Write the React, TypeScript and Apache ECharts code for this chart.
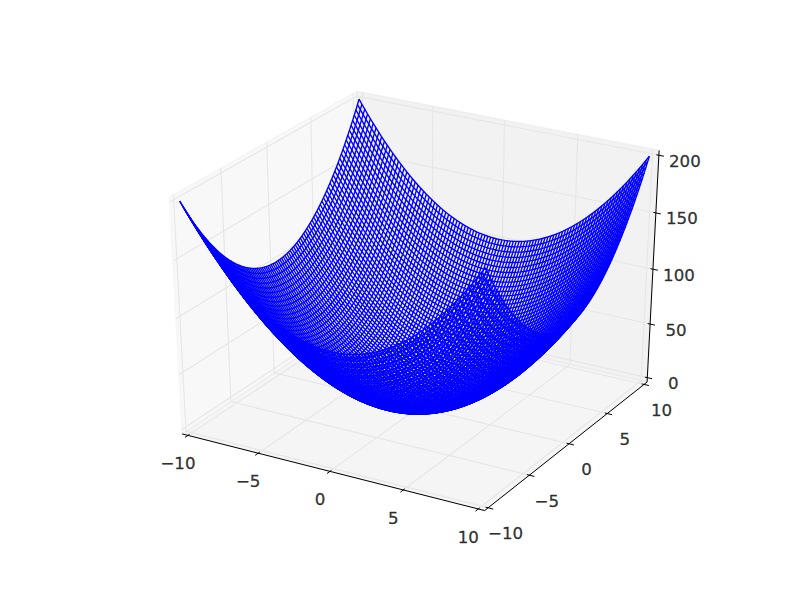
import React, { useEffect, useRef } from "react";
import * as echarts from "echarts";

const gridCoords = [
  -10, -9.8, -9.6, -9.4, -9.2, -9, -8.8, -8.6, -8.4, -8.2, -8, -7.8, -7.6, -7.4, -7.2, -7, -6.8, -6.6, -6.4, -6.2, -6,
  -5.8, -5.6, -5.4, -5.2, -5, -4.8, -4.6, -4.4, -4.2, -4, -3.8, -3.6, -3.4, -3.2, -3, -2.8, -2.6, -2.4, -2.2, -2, -1.8,
  -1.6, -1.4, -1.2, -1, -0.8, -0.6, -0.4, -0.2, 0, 0.2, 0.4, 0.6, 0.8, 1, 1.2, 1.4, 1.6, 1.8, 2, 2.2, 2.4, 2.6, 2.8, 3,
  3.2, 3.4, 3.6, 3.8, 4, 4.2, 4.4, 4.6, 4.8, 5, 5.2, 5.4, 5.6, 5.8, 6, 6.2, 6.4, 6.6, 6.8, 7, 7.2, 7.4, 7.6, 7.8, 8,
  8.2, 8.4, 8.6, 8.8, 9, 9.2, 9.4, 9.6, 9.8, 10,
];
// Height each grid coordinate contributes to the bowl.
const rimHeights = [
  100, 96.04, 92.16, 88.36, 84.64, 81, 77.44, 73.96, 70.56, 67.24, 64, 60.84, 57.76, 54.76, 51.84, 49, 46.24, 43.56,
  40.96, 38.44, 36, 33.64, 31.36, 29.16, 27.04, 25, 23.04, 21.16, 19.36, 17.64, 16, 14.44, 12.96, 11.56, 10.24, 9,
  7.84, 6.76, 5.76, 4.84, 4, 3.24, 2.56, 1.96, 1.44, 1, 0.64, 0.36, 0.16, 0.04, 0, 0.04, 0.16, 0.36, 0.64, 1, 1.44,
  1.96, 2.56, 3.24, 4, 4.84, 5.76, 6.76, 7.84, 9, 10.24, 11.56, 12.96, 14.44, 16, 17.64, 19.36, 21.16, 23.04, 25,
  27.04, 29.16, 31.36, 33.64, 36, 38.44, 40.96, 43.56, 46.24, 49, 51.84, 54.76, 57.76, 60.84, 64, 67.24, 70.56, 73.96,
  77.44, 81, 84.64, 88.36, 92.16, 96.04, 100,
];
const xTicks = [-10, -5, 0, 5, 10];
const yTicks = [-10, -5, 0, 5, 10];
const zTicks = [0, 50, 100, 150, 200];
const xTickLabels = ["\u221210", "\u22125", "0", "5", "10"];
const yTickLabels = ["\u221210", "\u22125", "0", "5", "10"];
const zTickLabels = ["0", "50", "100", "150", "200"];

const X0 = -10, X1 = 10, Z0 = 0, Z1 = 200;
const DIST = 10, ELEV = (30 * Math.PI) / 180, AZIM = (-60 * Math.PI) / 180;
const padXY = (X1 - X0) / 48, padZ = (Z1 - Z0) / 48;
const deltaXY = (X1 - X0) / 12;
const xMin = X0 - padXY, xMax = X1 + padXY, yMin = xMin, yMax = xMax, zMin = Z0 - padZ, zMax = Z1 + padZ;

type V3 = [number, number, number];
const sub = (a: V3, b: V3): V3 => [a[0] - b[0], a[1] - b[1], a[2] - b[2]];
const dot = (a: V3, b: V3) => a[0] * b[0] + a[1] * b[1] + a[2] * b[2];
const cross = (a: V3, b: V3): V3 => [a[1] * b[2] - a[2] * b[1], a[2] * b[0] - a[0] * b[2], a[0] * b[1] - a[1] * b[0]];
const norm = (a: V3): V3 => {
  const l = Math.sqrt(dot(a, a));
  return [a[0] / l, a[1] / l, a[2] / l];
};
const R: V3 = [0.5, 0.5, 0.5];
const E: V3 = [
  R[0] + Math.cos(AZIM) * Math.cos(ELEV) * DIST,
  R[1] + Math.sin(AZIM) * Math.cos(ELEV) * DIST,
  R[2] + Math.sin(ELEV) * DIST,
];
const n = norm(sub(E, R));
const u = norm(cross([0, 0, 1], n));
const v = cross(n, u);

function project(x: number, y: number, z: number): [number, number] {
  const w: V3 = [(x - X0) / (X1 - X0), (y - X0) / (X1 - X0), (z - Z0) / (Z1 - Z0)];
  const d = sub(w, E);
  const vz = dot(n, d);
  const px = dot(u, d) / -vz;
  const py = dot(v, d) / -vz;
  const sx = 100 + (620 * (px + 0.095)) / 0.185;
  const sy = 600 - (60 + (480 * (py + 0.095)) / 0.185);
  return [sx, sy];
}

const lineSeries = (pts: V3[], color: string, width: number) => ({
  type: "line",
  data: pts.map((p) => project(p[0], p[1], p[2])),
  showSymbol: false,
  symbol: "none",
  clip: false,
  silent: true,
  lineStyle: { color, width, cap: "butt", join: "miter" },
});

const labelSeries = (pts: [number, number][], texts: string[]) => ({
  type: "scatter",
  symbolSize: 1,
  clip: false,
  silent: true,
  itemStyle: { color: "transparent" },
  data: pts.map((p, i) => ({
    value: p,
    label: {
      show: true,
      position: "inside",
      formatter: texts[i],
      color: "#000000",
      textBorderColor: "#000000",
      textBorderWidth: 0.3,
      fontFamily: "DejaVu Sans",
      fontSize: 16.67,
      align: "center",
      verticalAlign: "middle",
    },
  })),
});

function buildOption() {
  const panes: V3[][] = [
    [[xMin, yMin, zMin], [xMin, yMax, zMin], [xMin, yMax, zMax], [xMin, yMin, zMax]],
    [[xMin, yMax, zMin], [xMax, yMax, zMin], [xMax, yMax, zMax], [xMin, yMax, zMax]],
    [[xMin, yMin, zMin], [xMax, yMin, zMin], [xMax, yMax, zMin], [xMin, yMax, zMin]],
  ];
  const paneFill = ["rgba(242,242,242,0.5)", "rgba(230,230,230,0.5)", "rgba(236,236,236,0.5)"];
  const series: any[] = [];
  series.push({
    type: "custom",
    coordinateSystem: "cartesian2d",
    clip: false,
    silent: true,
    data: panes.map((_, i) => [i]),
    renderItem: (params: any, api: any) => ({
      type: "polygon",
      shape: { points: panes[params.dataIndex].map((p) => api.coord(project(p[0], p[1], p[2]))) },
      style: { fill: paneFill[params.dataIndex], stroke: paneFill[params.dataIndex], lineWidth: 1.4 },
    }),
  });
  const gridColor = "#e6e6e6";
  xTicks.forEach((t) => series.push(lineSeries([[t, yMin, zMin], [t, yMax, zMin], [t, yMax, zMax]], gridColor, 1.1)));
  yTicks.forEach((t) => series.push(lineSeries([[xMax, t, zMin], [xMin, t, zMin], [xMin, t, zMax]], gridColor, 1.1)));
  zTicks.forEach((t) => series.push(lineSeries([[xMin, yMin, t], [xMin, yMax, t], [xMax, yMax, t]], gridColor, 1.1)));

  gridCoords.forEach((a, i) => {
    series.push(lineSeries(gridCoords.map((b, j) => [a, b, rimHeights[i] + rimHeights[j]] as V3), "#0000ff", 1.39));
    series.push(lineSeries(gridCoords.map((b, j) => [b, a, rimHeights[i] + rimHeights[j]] as V3), "#0000ff", 1.39));
  });

  series.push(lineSeries([[xMin, yMin, zMin], [xMax, yMin, zMin]], "#000", 1));
  series.push(lineSeries([[xMax, yMin, zMin], [xMax, yMax, zMin]], "#000", 1));
  series.push(lineSeries([[xMax, yMax, zMin], [xMax, yMax, zMax]], "#000", 1));
  xTicks.forEach((t) =>
    series.push(lineSeries([[t, yMin - 0.2 * deltaXY, zMin], [t, yMin + 0.1 * deltaXY, zMin]], "#000", 1)),
  );
  yTicks.forEach((t) =>
    series.push(lineSeries([[xMax + 0.2 * deltaXY, t, zMin], [xMax - 0.1 * deltaXY, t, zMin]], "#000", 1)),
  );
  zTicks.forEach((t) =>
    series.push(lineSeries([[xMax + 0.2 * deltaXY, yMax, t], [xMax - 0.1 * deltaXY, yMax, t]], "#000", 1)),
  );

  const off = (p: [number, number], dx: number, dy: number): [number, number] => [p[0] + dx, p[1] + dy];
  series.push(labelSeries(xTicks.map((t) => off(project(t, yMin, zMin), -10, 28.5)), xTickLabels));
  series.push(labelSeries(yTicks.map((t) => off(project(xMax, t, zMin), 17.5, 26)), yTickLabels));
  series.push(labelSeries(zTicks.map((t) => off(project(xMax, yMax, t), 26, 6)), zTickLabels));

  return {
    animation: false,
    backgroundColor: "#fff",
    grid: { left: 0, right: 0, top: 0, bottom: 0 },
    xAxis: { type: "value", min: 0, max: 800, show: false },
    yAxis: { type: "value", min: 0, max: 600, inverse: true, show: false },
    series,
  };
}

export default function App() {
  const ref = useRef<HTMLDivElement>(null);
  useEffect(() => {
    const chart = echarts.init(ref.current!, undefined, { renderer: "svg", width: 800, height: 600 });
    chart.setOption(buildOption() as any);
    return () => chart.dispose();
  }, []);
  return <div ref={ref} style={{ position: "fixed", left: 0, top: 0, width: 800, height: 600 }} />;
}
